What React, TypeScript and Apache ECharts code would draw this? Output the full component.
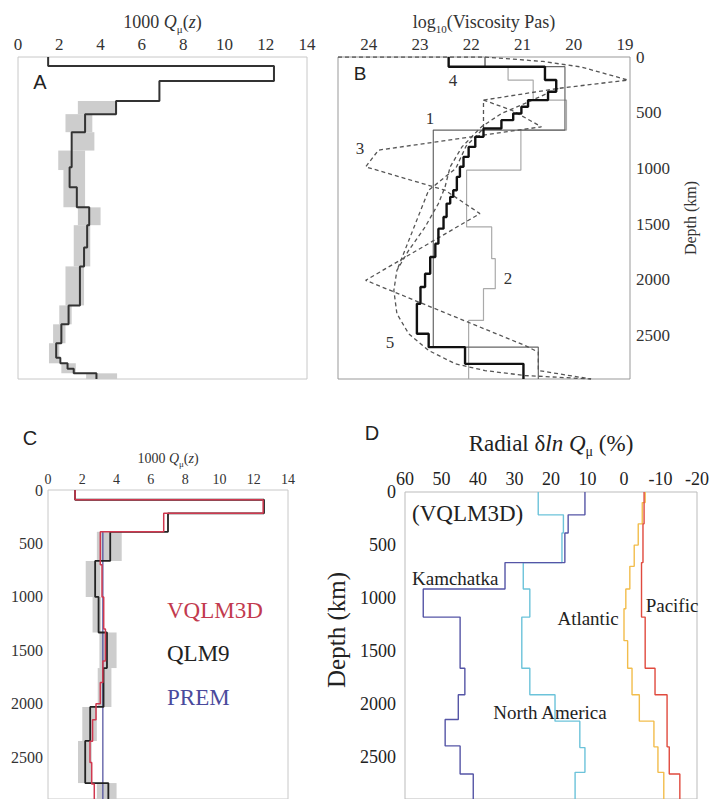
import React, { useEffect, useRef } from "react";
import * as echarts from "echarts";

const SERIF = "Liberation Serif";
const SANS = "Liberation Sans";
const DEPTH_MAX = 2891;

// ---------- Panel A: 1000/Q (QLM9) ----------
const qlm9ABounds = [0, 80, 216, 396, 513, 675, 990, 1170, 1350, 1510, 1710, 1880, 2230, 2400, 2570, 2700, 2750, 2800, 2840, 2891];
const qlm9AValues = [1.46, 12.4, 6.85, 4.75, 3.25, 2.6, 2.5, 2.85, 3.45, 3.35, 3.2, 3.0, 2.45, 2.1, 1.85, 2.05, 2.4, 2.7, 3.8];
const boxAMin = [2.9, 2.3, 2.6, 1.95, 2.2, 2.9, 2.7, 2.3, 2.0, 1.7, 1.5, 2.1, 3.3];
const boxAMax = [4.8, 3.6, 3.7, 3.25, 3.25, 4.0, 3.5, 3.2, 2.6, 2.3, 2.0, 2.8, 4.8];
const boxATop = [396, 513, 675, 840, 1015, 1350, 1510, 1880, 2230, 2400, 2570, 2750, 2840];
const boxABot = [513, 675, 840, 1015, 1350, 1510, 1880, 2230, 2400, 2570, 2750, 2840, 2891];

// ---------- Panel B: log10 viscosity ----------
const viscQBounds = [0, 87, 207, 312, 387, 447, 507, 567, 642, 717, 807, 897, 986, 1076, 1196, 1256, 1316, 1436, 1541, 1676, 1796, 1946, 2065, 2215, 2485, 2605, 2755, 2891];
const viscQValues = [22.44, 20.56, 20.34, 20.5, 20.89, 21.02, 21.18, 21.41, 21.76, 21.92, 22.05, 22.15, 22.22, 22.28, 22.35, 22.41, 22.48, 22.54, 22.64, 22.7, 22.8, 22.9, 22.99, 23.06, 22.83, 22.12, 20.98];
const model1Bounds = [0, 87, 656, 2605, 2891];
const model1Values = [21.73, 20.17, 22.74, 20.69];
const model2Bounds = [0, 87, 207, 387, 656, 1016, 1526, 1811, 2080, 2365, 2891];
const model2Values = [21.73, 21.28, 20.79, 20.14, 21.03, 22.09, 21.6, 21.53, 21.76, 22.05];
const model3Visc = [21.76, 21.2, 20.63, 23.81, 24.06, 22.51, 21.83, 24.06, 20.95, 20.69, 20.69, 19.66];
const model3Depth = [387, 480, 627, 836, 986, 1196, 1406, 2005, 2590, 2650, 2815, 2891];
const model4Visc = [24.6, 21.73, 20.6, 19.85, 18.94, 20.3, 21.76, 21.76, 22.1, 22.3, 22.83, 23.45];
const model4Depth = [0, 0, 40, 90, 207, 282, 387, 642, 800, 1000, 1196, 1916];
const model5Visc = [20.3, 20.95, 21.41, 21.8, 22.18, 22.41, 22.51, 22.64, 22.9, 23.22, 23.45, 23.51, 23.45, 23.22, 22.83, 22.31, 21.73, 20.95, 19.66];
const model5Depth = [282, 417, 507, 627, 807, 986, 1166, 1316, 1526, 1736, 1916, 2095, 2305, 2485, 2635, 2755, 2815, 2860, 2891];

// ---------- Panel C: VQLM3D / QLM9 / PREM ----------
const qlm9CBounds = [0, 91, 218, 391, 664, 1000, 1333, 1666, 2030, 2348, 2742, 2891];
const qlm9CValues = [1.58, 12.6, 7.0, 3.63, 2.75, 2.95, 3.44, 3.24, 2.46, 2.17, 3.52];
const vqlmCBounds = [0, 91, 218, 391, 700, 1000, 1300, 1600, 1800, 2000, 2150, 2350, 2550, 2750, 2891];
const vqlmCValues = [1.58, 12.55, 6.75, 3.05, 3.15, 3.25, 3.35, 3.2, 3.05, 2.8, 2.6, 2.45, 2.55, 2.7];
const premCBounds = [391, 2891];
const premCValues = [3.2];
const boxCMin = [2.85, 2.2, 2.6, 3.0, 2.9, 2.0, 1.75, 2.85];
const boxCMax = [4.3, 3.05, 3.1, 4.0, 3.7, 2.85, 2.55, 4.0];
const boxCTop = [391, 664, 1000, 1333, 1666, 2030, 2348, 2742];
const boxCBot = [664, 1000, 1333, 1666, 2030, 2348, 2742, 2891];

// ---------- Panel D: radial dlnQ (%) ----------
const kamBounds = [0, 215, 386, 665, 914, 1178, 1660, 1909, 2142, 2391, 2656, 2891];
const kamValues = [10.7, 15.3, 16.2, 32.6, 55.0, 44.9, 43.6, 45.4, 49.0, 44.9, 41.3];
const naBounds = [0, 215, 386, 665, 914, 1178, 1660, 1909, 2158, 2407, 2640, 2891];
const naValues = [23.5, 16.6, 17.0, 27.6, 25.8, 28.0, 25.8, 18.9, 12.1, 10.7, 13.4];
const atlBounds = [0, 100, 300, 500, 700, 914, 1100, 1400, 1660, 1909, 2158, 2400, 2640, 2891];
const atlValues = [-5.8, -5.0, -3.9, -2.8, -1.6, -0.5, 0.0, -1.0, -2.2, -4.2, -8.2, -9.3, -10.9];
const pacBounds = [0, 300, 665, 1178, 1660, 1909, 2400, 2656, 2891];
const pacValues = [-5.5, -5.2, -4.8, -5.8, -8.5, -11.8, -12.4, -15.3];

function steps(bounds: number[], values: number[]) {
  const pts: number[][] = [];
  for (let i = 0; i < values.length; i++) {
    pts.push([values[i], bounds[i]]);
    pts.push([values[i], bounds[i + 1]]);
  }
  return pts;
}
function zip(xs: number[], ys: number[]) {
  return xs.map((x, i) => [x, ys[i]]);
}
function boxes(mins: number[], maxs: number[], tops: number[], bots: number[]) {
  return mins.map((m, i) => [m, maxs[i], tops[i], bots[i]]);
}

function lineSeries(idx: number, data: number[][], color: string, width: number, dashed = false, z = 3) {
  return {
    type: "line",
    xAxisIndex: idx,
    yAxisIndex: idx,
    data,
    showSymbol: false,
    symbol: "none",
    lineStyle: { color, width, type: dashed ? [4, 3] : "solid" },
    z,
    silent: true,
  };
}

function boxSeries(idx: number, data: number[][], color: string) {
  return {
    type: "custom",
    xAxisIndex: idx,
    yAxisIndex: idx,
    data,
    encode: { x: [0, 1], y: [2, 3] },
    z: 1,
    silent: true,
    renderItem: (_p: any, api: any) => {
      const p1 = api.coord([api.value(0), api.value(2)]);
      const p2 = api.coord([api.value(1), api.value(3)]);
      return {
        type: "rect",
        shape: {
          x: Math.min(p1[0], p2[0]),
          y: Math.min(p1[1], p2[1]),
          width: Math.abs(p2[0] - p1[0]),
          height: Math.abs(p2[1] - p1[1]),
        },
        style: { fill: color },
      };
    },
  };
}

const richSub = (size: number, color = "#333") => ({
  i: { fontStyle: "italic", fontFamily: SERIF, fontSize: size, color },
  s: { fontFamily: SERIF, fontSize: Math.round(size * 0.62), color, padding: [Math.round(size * 0.7), 0, 0, 0] },
});

function depthAxis(idx: number, opts: any) {
  return {
    gridIndex: idx,
    type: "value",
    inverse: true,
    min: 0,
    max: DEPTH_MAX,
    interval: 500,
    axisLine: { show: false },
    axisTick: { show: false },
    splitLine: { show: false },
    ...opts,
  };
}

// tick labels rendered through a rich token so the serif face is applied
const label = (size: number, margin: number, color = "#333", extra: any = {}, fmt?: (v: number) => string) => ({
  fontFamily: SERIF,
  fontSize: size,
  color,
  margin,
  formatter: (v: number) => {
    const s = fmt ? fmt(v) : String(v);
    return s === "" ? "" : `{a|${s}}`;
  },
  rich: { a: { fontFamily: SERIF, fontSize: size, color } },
  ...extra,
});

export default function App() {
  const ref = useRef<HTMLDivElement>(null);
  useEffect(() => {
    if (!ref.current) return;
    const chart = echarts.init(ref.current, undefined, { renderer: "svg" });
    const gridBase = { show: true, borderWidth: 1, backgroundColor: "transparent" };
    const t = (x: number, y: number, text: string, font: string, fill: string, align = "center") => ({
      type: "text",
      x,
      y,
      style: { text, font, fill, align, verticalAlign: "middle" },
    });
    const option: any = {
      animation: false,
      backgroundColor: "#ffffff",
      textStyle: { fontFamily: SERIF },
      grid: [
        { ...gridBase, left: 18, top: 57, width: 289, height: 322, borderColor: "#c8c8c8" },
        { ...gridBase, left: 338, top: 57, width: 292, height: 322, borderColor: "#999" },
        { ...gridBase, left: 48, top: 490, width: 240, height: 318, borderColor: "#c8c8c8" },
        { ...gridBase, left: 405, top: 492, width: 292, height: 310, borderColor: "#bbb" },
      ],
      xAxis: [
        {
          gridIndex: 0, type: "value", position: "top", min: 0, max: 14, interval: 2,
          axisLine: { show: false }, axisTick: { show: false }, splitLine: { show: false },
          axisLabel: label(17, 4),
          name: "1000 {i|Q}{s|μ}({i|z})", nameLocation: "middle", nameGap: 23,
          nameTextStyle: { fontFamily: SERIF, fontSize: 18, color: "#333", rich: richSub(18) },
        },
        {
          gridIndex: 1, type: "value", position: "top", inverse: true, min: 18.9, max: 24.6, interval: 0.1,
          axisLine: { show: false }, axisTick: { show: false }, splitLine: { show: false },
          axisLabel: label(17, 4, "#333", {}, (v: number) =>
            Math.abs(v - Math.round(v)) < 0.01 ? String(Math.round(v)) : ""
          ),
          name: "log{s|10}(Viscosity Pas)", nameLocation: "middle", nameGap: 23,
          nameTextStyle: { fontFamily: SERIF, fontSize: 18, color: "#333", rich: richSub(18) },
        },
        {
          gridIndex: 2, type: "value", position: "top", min: 0, max: 14, interval: 2,
          axisLine: { show: false }, axisTick: { show: false }, splitLine: { show: false },
          axisLabel: label(14, 4),
          name: "1000 {i|Q}{s|μ}({i|z})", nameLocation: "middle", nameGap: 22,
          nameTextStyle: { fontFamily: SERIF, fontSize: 14, color: "#333", rich: richSub(14) },
        },
        {
          gridIndex: 3, type: "value", position: "top", inverse: true, min: -20, max: 60, interval: 10,
          axisLine: { show: false }, axisTick: { show: false }, splitLine: { show: false },
          axisLabel: label(18, 4, "#222"),
          name: "Radial δ{i|ln} {i|Q}{s|μ} (%)", nameLocation: "middle", nameGap: 34,
          nameTextStyle: { fontFamily: SERIF, fontSize: 23, color: "#222", rich: richSub(23, "#222") },
        },
      ],
      yAxis: [
        depthAxis(0, { axisLabel: { show: false } }),
        depthAxis(1, {
          position: "right",
          axisLabel: label(17, 6, "#333", { showMaxLabel: false }),
          name: "Depth (km)", nameLocation: "middle", nameRotate: 90, nameGap: 52,
          nameTextStyle: { fontFamily: SERIF, fontSize: 16, color: "#333" },
        }),
        depthAxis(2, {
          axisLabel: label(16, 5, "#333", { showMaxLabel: false }),
        }),
        depthAxis(3, {
          axisLabel: label(18, 9, "#222", { showMaxLabel: false }),
        }),
      ],
      series: [
        // Panel A
        boxSeries(0, boxes(boxAMin, boxAMax, boxATop, boxABot), "#cdcdcd"),
        lineSeries(0, steps(qlm9ABounds, qlm9AValues), "#333", 2),
        // Panel B
        lineSeries(1, steps(model2Bounds, model2Values), "#aaa", 1.2, false, 2),
        lineSeries(1, steps(model1Bounds, model1Values), "#666", 1.2, false, 2),
        lineSeries(1, zip(model3Visc, model3Depth), "#555", 1.3, true),
        lineSeries(1, zip(model4Visc, model4Depth), "#555", 1.3, true),
        lineSeries(1, zip(model5Visc, model5Depth), "#555", 1.3, true),
        lineSeries(1, steps(viscQBounds, viscQValues), "#111", 2.4, false, 4),
        // Panel C
        boxSeries(2, boxes(boxCMin, boxCMax, boxCTop, boxCBot), "#cdcdcd"),
        lineSeries(2, steps(premCBounds, premCValues), "#4b4b9b", 1.2, false, 2),
        lineSeries(2, steps(qlm9CBounds, qlm9CValues), "#222", 1.8, false, 3),
        lineSeries(2, steps(vqlmCBounds, vqlmCValues), "#d0384f", 1.5, false, 4),
        // Panel D
        lineSeries(3, steps(naBounds, naValues), "#6cc3da", 1.4),
        lineSeries(3, steps(kamBounds, kamValues), "#5555a6", 1.4),
        lineSeries(3, steps(atlBounds, atlValues), "#f2bd4c", 1.4),
        lineSeries(3, steps(pacBounds, pacValues), "#e04a3e", 1.4),
      ],
      graphic: [
        t(40, 82, "A", `20px ${SANS}`, "#222"),
        t(360, 73, "B", `19px ${SANS}`, "#222"),
        t(30, 438, "C", `20px ${SANS}`, "#222"),
        t(372, 433, "D", `20px ${SANS}`, "#222"),
        t(430, 118, "1", `17px ${SERIF}`, "#333"),
        t(508, 278, "2", `17px ${SERIF}`, "#333"),
        t(360, 148, "3", `17px ${SERIF}`, "#333"),
        t(453, 80, "4", `17px ${SERIF}`, "#333"),
        t(390, 342, "5", `17px ${SERIF}`, "#333"),
        t(167, 610, "VQLM3D", `23px ${SERIF}`, "#c23a4e", "left"),
        t(167, 653, "QLM9", `23px ${SERIF}`, "#222", "left"),
        t(167, 697, "PREM", `23px ${SERIF}`, "#4a4a9c", "left"),
        t(412, 513, "(VQLM3D)", `23px ${SERIF}`, "#222", "left"),
        t(412, 578, "Kamchatka", `19px ${SERIF}`, "#222", "left"),
        t(588, 618, "Atlantic", `19px ${SERIF}`, "#222"),
        t(672, 605, "Pacific", `19px ${SERIF}`, "#222"),
        t(550, 712, "North America", `19px ${SERIF}`, "#222"),
        {
          type: "text",
          x: 336,
          y: 630,
          rotation: Math.PI / 2,
          style: { text: "Depth (km)", font: `25px ${SERIF}`, fill: "#222", align: "center", verticalAlign: "middle" },
        },
      ],
    };
    chart.setOption(option);
    return () => chart.dispose();
  }, []);
  return (
    <div
      ref={ref}
      style={{ position: "fixed", left: 0, top: 0, width: 713, height: 799, background: "#fff" }}
    />
  );
}
